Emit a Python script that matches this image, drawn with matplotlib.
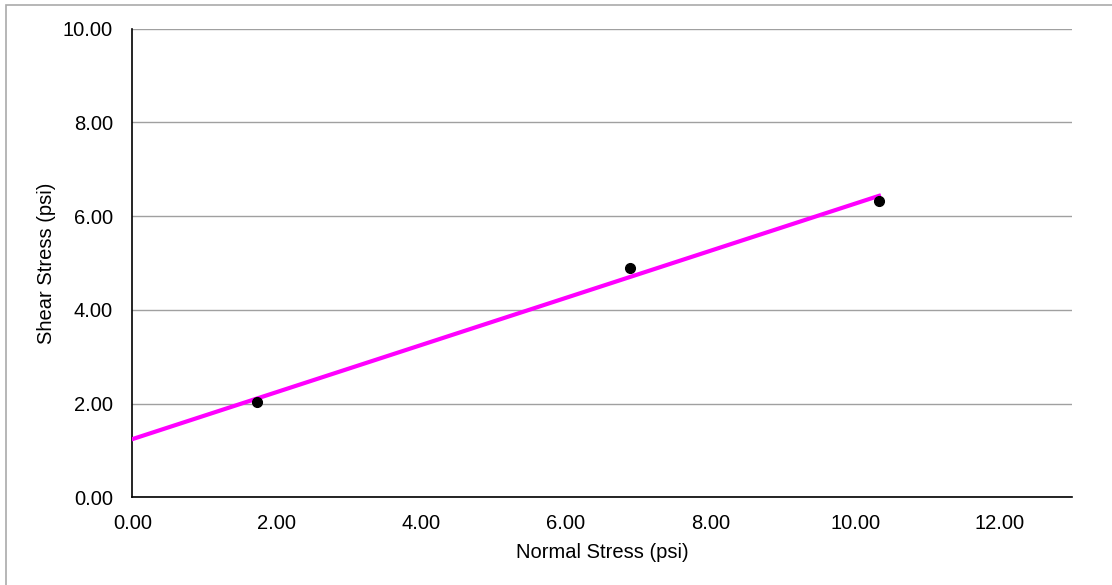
import numpy as np
import matplotlib
matplotlib.use("Agg")
import matplotlib.pyplot as plt
from matplotlib.patches import Rectangle

plt.rcParams['font.family'] = ['Liberation Sans', 'DejaVu Sans']

# measured points
normal_stress = [1.72, 6.89, 10.33]
shear_stress = [2.03, 4.89, 6.32]

x_ticks = [0, 2, 4, 6, 8, 10, 12]
y_ticks = [0, 2, 4, 6, 8, 10]

# linear trendline through the data, drawn from zero out to the last point
slope, intercept = np.polyfit(normal_stress, shear_stress, 1)
fit_x = np.array([0, max(normal_stress)])
fit_y = slope * fit_x + intercept

fig = plt.figure(figsize=(11.12, 5.85), dpi=100)
ax = fig.add_axes([0.119, 0.150, 0.845, 0.801])

# chart area border
fig.patches.append(Rectangle((6 / 1112, -0.1), 1.2, 1 - 5 / 585 + 0.1,
                             transform=fig.transFigure, fill=False,
                             edgecolor='#aaaaaa', linewidth=1.2))

ax.plot(fit_x, fit_y, color='#ff00ff', linewidth=3, zorder=3)
ax.plot(normal_stress, shear_stress, 'o', color='black', markersize=7, zorder=4)

ax.set_xlim(0, 13)
ax.set_ylim(0, 10)
ax.set_xticks(x_ticks)
ax.set_yticks(y_ticks)
ax.xaxis.set_major_formatter(lambda v, p: f"{v:.2f}")
ax.yaxis.set_major_formatter(lambda v, p: f"{v:.2f}")
ax.tick_params(length=0, labelsize=14.5, colors='black')
ax.tick_params(axis='y', pad=14)
ax.tick_params(axis='x', pad=12)

ax.grid(axis='y', color='#a0a0a0', linewidth=1)
ax.set_axisbelow(True)
for side in ['top', 'right']:
    ax.spines[side].set_visible(False)
for side in ['left', 'bottom']:
    ax.spines[side].set_linewidth(1.2)
    ax.spines[side].set_color('black')

ax.set_xlabel('Normal Stress (psi)', fontsize=14.5, labelpad=7)
ax.set_ylabel('Shear Stress (psi)', fontsize=14.5, labelpad=5)

fig.savefig('out.png', dpi=100)
